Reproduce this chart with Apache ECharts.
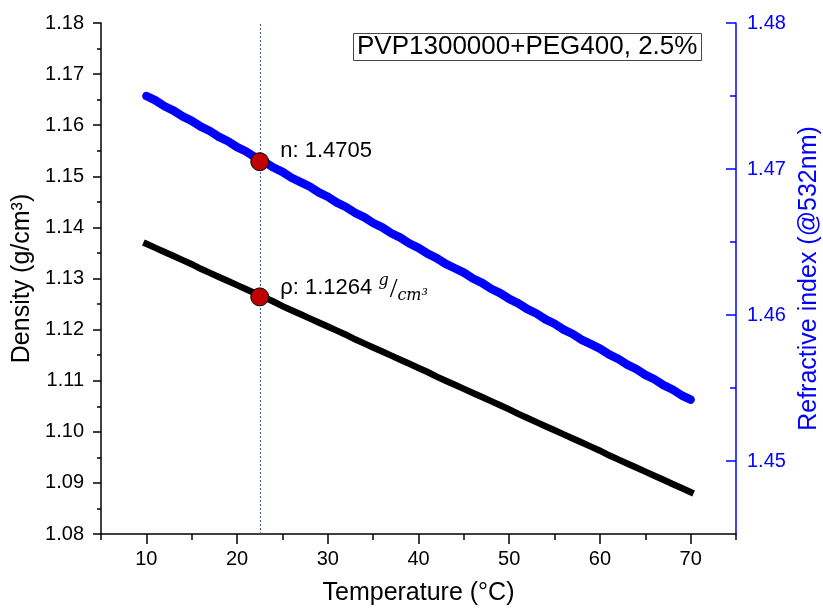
<!DOCTYPE html>
<html>
<head>
<meta charset="utf-8">
<script src="https://cdn.jsdelivr.net/npm/echarts@6/dist/echarts.min.js"></script>
<style>
html,body{margin:0;padding:0;background:#fff;}
#chart{width:823px;height:614px;}
</style>
</head>
<body>
<div id="chart"></div>
<script>
// ---- data ----
var temperature = [10,11,12,13,14,15,16,17,18,19,20,21,22,23,24,25,26,27,28,29,30,31,32,33,34,35,36,37,38,39,40,41,42,43,44,45,46,47,48,49,50,51,52,53,54,55,56,57,58,59,60,61,62,63,64,65,66,67,68,69,70];
var density = [1.1368,1.1360,1.1352,1.1344,1.1336,1.1328,1.1319,1.1311,1.1303,1.1295,1.1287,1.1279,1.1271,1.1263,1.1255,1.1246,1.1238,1.1230,1.1222,1.1214,1.1206,1.1198,1.1190,1.1181,1.1173,1.1165,1.1157,1.1149,1.1141,1.1133,1.1125,1.1117,1.1108,1.1100,1.1092,1.1084,1.1076,1.1068,1.1060,1.1052,1.1044,1.1035,1.1027,1.1019,1.1011,1.1003,1.0995,1.0987,1.0979,1.0971,1.0963,1.0954,1.0946,1.0938,1.0930,1.0922,1.0914,1.0906,1.0898,1.0890,1.0882];
var refractiveIndex = [1.4750,1.4747,1.4743,1.4740,1.4736,1.4733,1.4729,1.4726,1.4722,1.4719,1.4715,1.4712,1.4708,1.4705,1.4701,1.4698,1.4694,1.4691,1.4688,1.4684,1.4681,1.4677,1.4674,1.4670,1.4667,1.4663,1.4660,1.4656,1.4653,1.4649,1.4646,1.4642,1.4639,1.4635,1.4632,1.4629,1.4625,1.4622,1.4618,1.4615,1.4611,1.4608,1.4604,1.4601,1.4597,1.4594,1.4590,1.4587,1.4583,1.4580,1.4577,1.4573,1.4570,1.4566,1.4563,1.4559,1.4556,1.4552,1.4549,1.4545,1.4542];
var cursorT = 22.5;
var cursorN = 1.4705;
var cursorRho = 1.1264;
var xMajorTicks = [10,20,30,40,50,60,70];
var xMinorTicks = [5,15,25,35,45,55,65,75];
var rMajorTicks = [1.45,1.46,1.47,1.48];
var rMinorTicks = [1.455,1.465,1.475];
var sampleName = 'PVP1300000+PEG400, 2.5%';

function zip(a, b) { return a.map(function (v, i) { return [v, b[i]]; }); }

var FONT = 'Liberation Sans, Arial, sans-serif';
var chart = echarts.init(document.getElementById('chart'), null, {renderer: 'canvas'});
var option = {
  animation: false,
  backgroundColor: '#fff',
  title: {
    text: sampleName,
    left: 353, top: 33,
    padding: [1, 4],
    borderColor: '#444', borderWidth: 1,
    textStyle: {fontSize: 26, fontWeight: 'normal', color: '#000', fontFamily: FONT}
  },
  grid: {left: 101, right: 87, top: 23, bottom: 80, containLabel: false, outerBoundsMode: 'none'},
  xAxis: [{
    type: 'value', min: 5, max: 75, position: 'bottom',
    name: 'Temperature (°C)', nameLocation: 'middle', nameGap: 47,
    nameTextStyle: {fontSize: 25, color: '#000', fontFamily: FONT},
    axisLine: {show: true, lineStyle: {color: '#000', width: 1.5}},
    axisTick: {show: true, customValues: xMajorTicks, length: 10, inside: false, lineStyle: {color: '#000', width: 1.5}},
    axisLabel: {show: true, customValues: xMajorTicks, fontSize: 20, color: '#000', fontFamily: FONT, margin: 15},
    splitLine: {show: false}
  }, {
    type: 'value', min: 5, max: 75, position: 'bottom',
    axisLine: {show: false},
    axisTick: {show: true, customValues: xMinorTicks, length: 6, inside: false, lineStyle: {color: '#000', width: 1.5}},
    axisLabel: {show: false},
    splitLine: {show: false}
  }],
  yAxis: [{
    type: 'value', min: 1.08, max: 1.18, interval: 0.01, position: 'left',
    name: 'Density (g/cm³)', nameLocation: 'middle', nameGap: 62,
    nameTextStyle: {fontSize: 25, color: '#000', fontFamily: FONT},
    axisLine: {show: true, lineStyle: {color: '#000', width: 1.5}},
    axisTick: {show: true, length: 8, inside: false, lineStyle: {color: '#000', width: 1.5}},
    minorTick: {show: true, splitNumber: 2, length: 4, lineStyle: {color: '#000', width: 1.5}},
    axisLabel: {fontSize: 20, color: '#000', fontFamily: FONT, margin: 17, formatter: function (v) { return v.toFixed(2); }},
    splitLine: {show: false}, minorSplitLine: {show: false}
  }, {
    type: 'value', min: 1.445, max: 1.48, position: 'right',
    name: 'Refractive index (@532nm)', nameLocation: 'middle', nameGap: 58,
    nameTextStyle: {fontSize: 25, color: '#0000ff', fontFamily: FONT},
    axisLine: {show: true, lineStyle: {color: '#0000ff', width: 1.5}},
    axisTick: {show: true, customValues: rMajorTicks, length: 10, inside: true, lineStyle: {color: '#0000ff', width: 1.5}},
    axisLabel: {show: true, customValues: rMajorTicks, fontSize: 20, color: '#0000ff', fontFamily: FONT, margin: 11, formatter: function (v) { return v.toFixed(2); }},
    splitLine: {show: false}
  }, {
    type: 'value', min: 1.445, max: 1.48, position: 'right',
    axisLine: {show: false},
    axisTick: {show: true, customValues: rMinorTicks, length: 6, inside: true, lineStyle: {color: '#0000ff', width: 1.5}},
    axisLabel: {show: false},
    splitLine: {show: false}
  }],
  series: [{
    name: 'n', type: 'line', xAxisIndex: 0, yAxisIndex: 1,
    data: zip(temperature, refractiveIndex),
    showSymbol: false, smooth: false,
    lineStyle: {color: '#0000ff', width: 8.5, cap: 'round', join: 'round'},
    z: 2
  }, {
    name: 'rho', type: 'line', xAxisIndex: 0, yAxisIndex: 0,
    data: zip(temperature, density),
    showSymbol: false,
    lineStyle: {color: '#000', width: 6.5, cap: 'square', join: 'miter'},
    z: 2,
    markLine: {
      silent: true, symbol: ['none', 'none'], label: {show: false},
      lineStyle: {color: '#3d5a99', width: 1, type: [2, 2]},
      data: [{xAxis: cursorT}]
    }
  }, {
    name: 'cursorN', type: 'scatter', xAxisIndex: 0, yAxisIndex: 1,
    data: [[cursorT, cursorN]], symbol: 'circle', symbolSize: 18,
    itemStyle: {color: '#c00000', borderColor: '#000', borderWidth: 1, opacity: 1},
    label: {show: true, position: 'right', distance: 11, offset: [0, -11],
      formatter: 'n: ' + cursorN.toFixed(4), fontSize: 22, color: '#000', fontFamily: FONT},
    z: 5
  }, {
    name: 'cursorRho', type: 'scatter', xAxisIndex: 0, yAxisIndex: 0,
    data: [[cursorT, cursorRho]], symbol: 'circle', symbolSize: 18,
    itemStyle: {color: '#c00000', borderColor: '#000', borderWidth: 1, opacity: 1},
    label: {show: true, position: 'right', distance: 11, offset: [0, -9],
      formatter: '{a|ρ: ' + cursorRho.toFixed(4) + ' }{g|g}{s|/}{c|cm³}',
      rich: {
        a: {fontSize: 22, color: '#000', fontFamily: FONT},
        g: {fontSize: 16, color: '#000', fontFamily: 'DejaVu Serif', fontStyle: 'italic', padding: [0, 1, 14, 0]},
        s: {fontSize: 28, color: '#000', fontFamily: 'Liberation Serif', padding: [4, 0, 0, 0]},
        c: {fontSize: 16, color: '#000', fontFamily: 'DejaVu Serif', fontStyle: 'italic', padding: [16, 0, 0, 0]}
      }
    },
    z: 5
  }]
};
chart.setOption(option);
</script>
</body>
</html>
